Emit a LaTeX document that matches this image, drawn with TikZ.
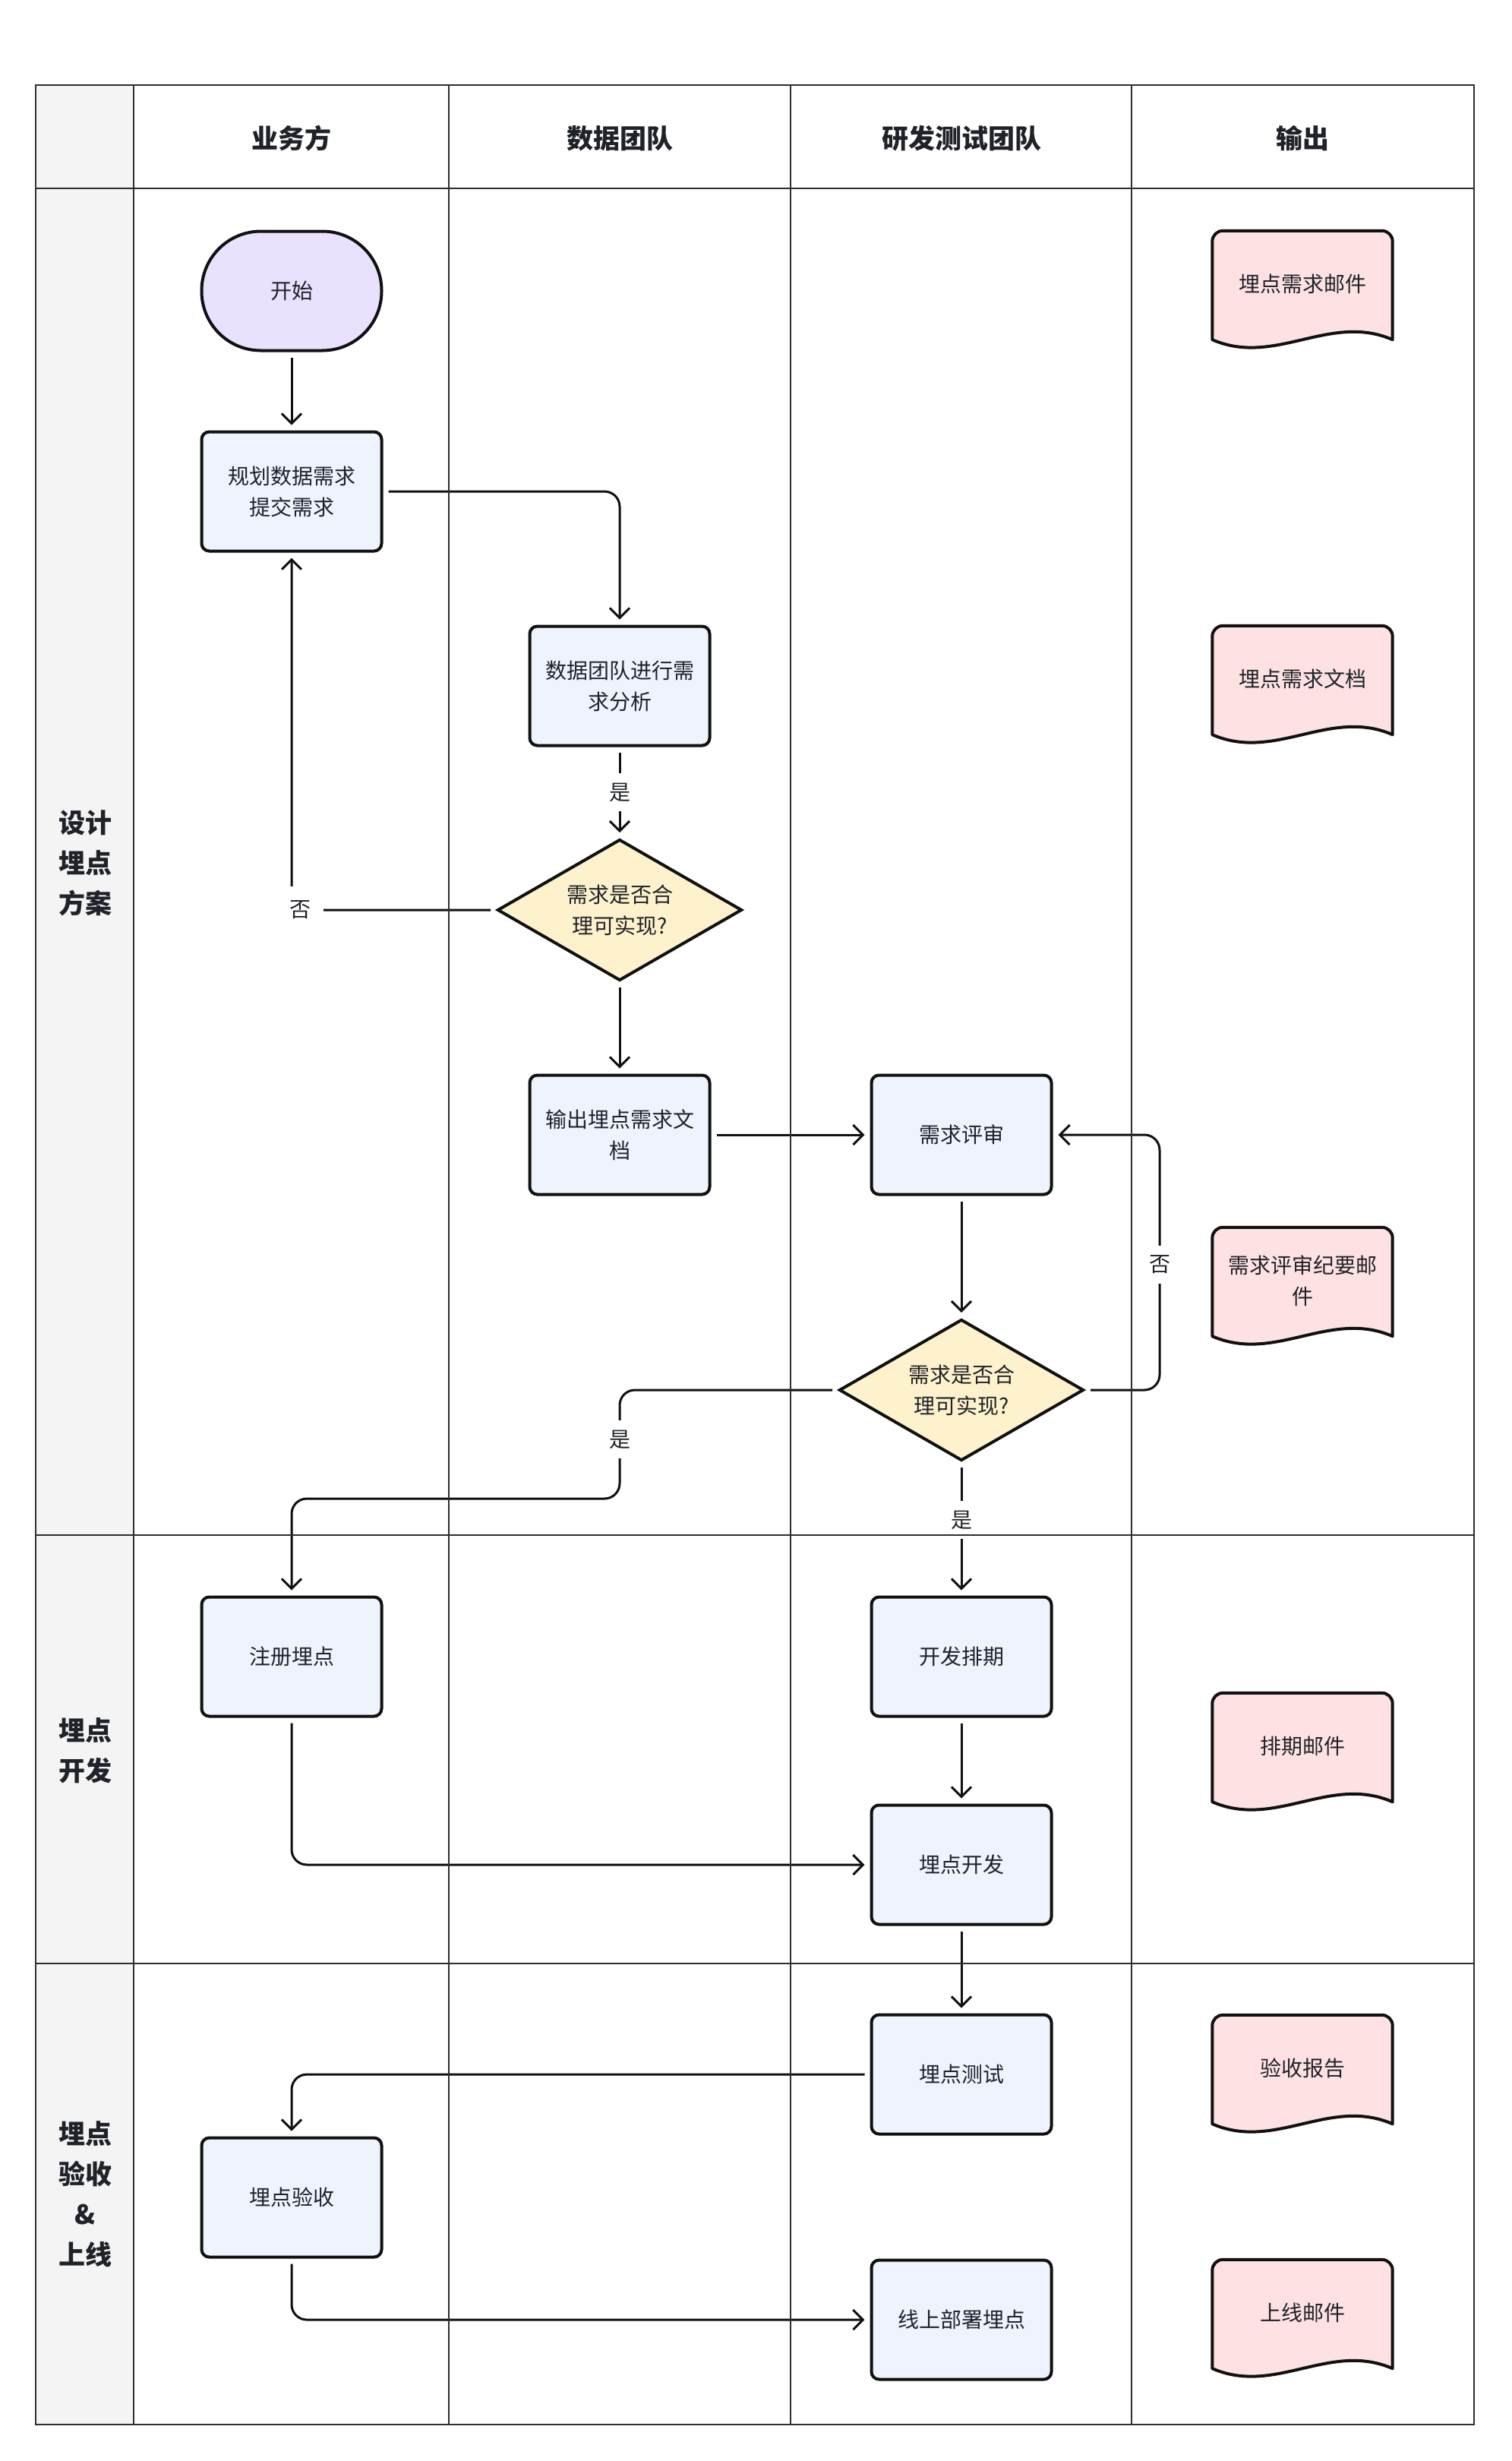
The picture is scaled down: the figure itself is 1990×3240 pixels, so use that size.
\documentclass[tikz,border=0pt]{standalone}
\usepackage{fontspec}
\setmainfont{Noto Sans CJK SC}
\usetikzlibrary{shapes.geometric,arrows.meta}
\pgfdeclarelayer{background}
\pgfsetlayers{background,main}
\definecolor{txt}{HTML}{1F2329}
\definecolor{lnc}{HTML}{111111}
\definecolor{gridc}{HTML}{2E2E2E}
\definecolor{leftfill}{HTML}{F4F4F4}
\definecolor{procfill}{HTML}{EEF3FD}
\definecolor{startfill}{HTML}{E9E1FD}
\definecolor{decfill}{HTML}{FEF2CD}
\definecolor{docfill}{HTML}{FEE2E3}
\newcommand\outdoc[3]{%
  \node[docnode] (#1) at (1715,{#2+70}) {#3};
  \begin{pgfonlayer}{background}
  \path[docpath] ([yshift=-3pt]#1.south west) -- ([yshift=-14pt]#1.north west)
    arc[start angle=180,end angle=90,radius=14pt] -- ([xshift=-14pt]#1.north east)
    arc[start angle=90,end angle=0,radius=14pt] -- ([yshift=-3pt]#1.south east)
    .. controls +(-83,-36) and +(83,36) .. ([yshift=-3pt]#1.south west) -- cycle;
  \end{pgfonlayer}}
\begin{document}
\begin{tikzpicture}[x=1pt,y=-1pt,
  nodefont/.style={font=\fontsize{28pt}{41pt}\selectfont, text=txt},
  proc/.style={draw=lnc, line width=4pt, fill=procfill, rounded corners=10pt,
    minimum width=237pt, minimum height=157pt, inner sep=0pt, align=center, nodefont},
  startnode/.style={proc, fill=startfill, rounded corners=78pt},
  dec/.style={diamond, aspect=1.73, draw=lnc, line width=4pt, fill=decfill, minimum width=322pt,
    minimum height=186pt, inner sep=0pt, align=center, nodefont},
  docnode/.style={minimum width=237pt, minimum height=140pt, inner sep=0pt, align=center, nodefont},
  docpath/.style={draw=lnc, line width=4pt, fill=docfill, line join=round},
  arr/.style={draw=lnc, line width=3pt, -{Straight Barb[length=13pt,width=26pt]},
    shorten >=7pt, shorten <=7pt, rounded corners=20pt},
  lbl/.style={fill=white, font=\fontsize{28pt}{34pt}\selectfont, text=txt, inner xsep=6pt, inner ysep=13pt},
  hdr/.style={font=\fontsize{35pt}{42pt}\selectfont\bfseries, text=txt},
  rowlbl/.style={font=\fontsize{35pt}{53pt}\selectfont\bfseries, text=txt, align=center},
  gridline/.style={draw=gridc, line width=2pt},
]
\useasboundingbox (0,0) rectangle (1990,3240);
% left column fill
\fill[leftfill] (47,112) rectangle (176,3192);
% headers
\node[hdr] (h1) at (384,182) {业务方};
\node[hdr] (h2) at (816,182) {数据团队};
\node[hdr] (h3) at (1266,182) {研发测试团队};
\node[hdr] (h4) at (1715,182) {输出};
\node[rowlbl] (r1) at (112,1136) {设计\\埋点\\方案};
\node[rowlbl] (r2) at (112,2305) {埋点\\开发};
\node[rowlbl] (r3) at (112,2889) {埋点\\验收\\\&\\上线};
% nodes
\node[startnode] (start) at (384,383) {开始};
\node[proc] (plan) at (384,647) {规划数据需求\\提交需求};
\node[proc] (analyze) at (816,903) {数据团队进行需\\求分析};
\node[dec] (dec1) at (816,1198) {需求是否合\\理可实现?};
\node[proc] (outdoc) at (816,1494) {输出埋点需求文\\档};
\node[proc] (review) at (1266,1494) {需求评审};
\node[dec] (dec2) at (1266,1830) {需求是否合\\理可实现?};
\node[proc] (register) at (384,2181) {注册埋点};
\node[proc] (schedule) at (1266,2181) {开发排期};
\node[proc] (develop) at (1266,2455) {埋点开发};
\node[proc] (test) at (1266,2731) {埋点测试};
\node[proc] (accept) at (384,2893) {埋点验收};
\node[proc] (deploy) at (1266,3054) {线上部署埋点};
% outputs
\outdoc{o1}{304}{埋点需求邮件}
\outdoc{o2}{824}{埋点需求文档}
\outdoc{o3}{1616}{需求评审纪要邮\\件}
\outdoc{o4}{2229}{排期邮件}
\outdoc{o5}{2653}{验收报告}
\outdoc{o6}{2975}{上线邮件}
% helper coordinates
\coordinate (c1) at (816,1973);
\coordinate (c2) at (1527,1665);
% connectors
\draw[arr] (start) -- (plan);
\draw[arr] (plan.east) -| (analyze.north);
\draw[arr] (analyze) -- (dec1);
\node[lbl] (l1) at (816,1043) {是};
\draw[arr] (dec1.west) -| (plan.south);
\node[lbl, minimum size=62pt] (l2) at (395,1198) {否};
\draw[arr] (dec1) -- (outdoc);
\draw[arr] (outdoc) -- (review);
\draw[arr] (review) -- (dec2);
\draw[arr] (dec2.east) -| (c2) |- (review.east);
\node[lbl] (l3) at (c2) {否};
\draw[arr] (dec2.west) -| (c1) -| (register.north);
\node[lbl] (l4) at (816,1895) {是};
\draw[arr] (dec2) -- (schedule);
\node[lbl] (l5) at (1266,2001) {是};
\draw[arr] (schedule) -- (develop);
\draw[arr] (register.south) |- (develop.west);
\draw[arr] (develop) -- (test);
\draw[arr] (test.west) -| (accept.north);
\draw[arr] (accept.south) |- (deploy.west);
% lane grid
\draw[gridline] (176,112) -- (176,3192);
\draw[gridline] (591,112) -- (591,3192);
\draw[gridline] (1041,112) -- (1041,3192);
\draw[gridline] (1490,112) -- (1490,3192);
\draw[gridline] (47,248) -- (1941,248);
\draw[gridline] (47,2021) -- (1941,2021);
\draw[gridline] (47,2585) -- (1941,2585);
\draw[draw=gridc, line width=2.5pt] (47,112) rectangle (1941,3192);
\end{tikzpicture}
\end{document}
